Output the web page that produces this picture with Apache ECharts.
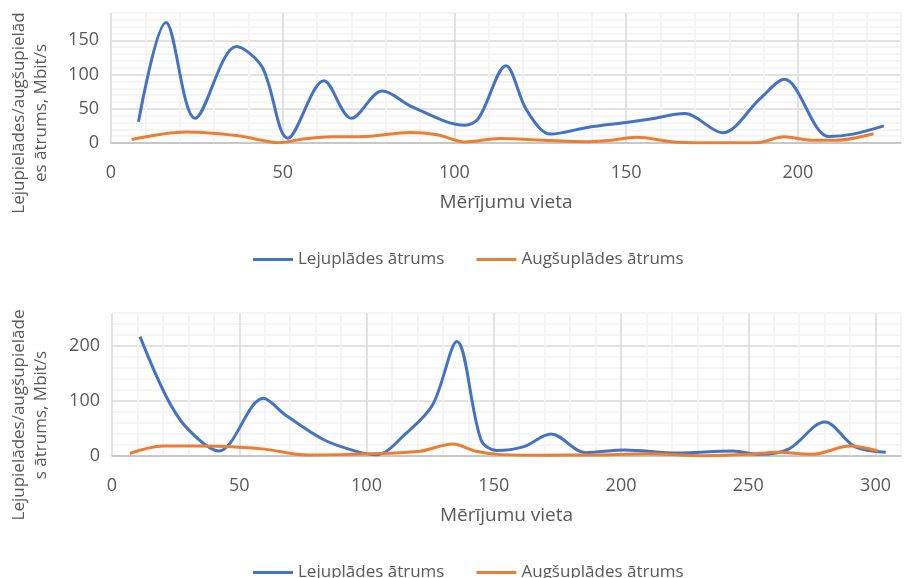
<!DOCTYPE html>
<html>
<head>
<meta charset="utf-8">
<script src="https://cdn.jsdelivr.net/npm/echarts@6/dist/echarts.min.js"></script>
<style>
  html, body { margin: 0; padding: 0; background: #ffffff; }
  #chart { width: 904px; height: 578px; }
</style>
</head>
<body>
<div id="chart"></div>
<script>
// Series names and axis titles
const seriesNames = ['Lejuplādes ātrums', 'Augšuplādes ātrums'];
const xAxisTitle = 'Mērījumu vieta';
const yAxisTitleTop = 'Lejupielādes/augšupielād\nes ātrums, Mbit/s';
const yAxisTitleBottom = 'Lejupielādes/augšupielāde\ns ātrums, Mbit/s';

// Tick labels shown on each axis
const topXTicks = [0, 50, 100, 150, 200];
const topYTicks = [0, 50, 100, 150];
const bottomXTicks = [0, 50, 100, 150, 200, 250, 300];
const bottomYTicks = [0, 100, 200];

// Upper chart: download speed (Mbit/s) per measurement location
const topDownX = [8, 16, 24.5, 36.5, 44, 51.5, 62, 70, 79, 88, 103, 107, 115, 121, 128, 139, 150, 157, 167, 178, 189, 196, 209, 216, 225];
const topDownY = [31, 176, 36, 141, 111, 7, 91, 36, 76, 52, 26, 36, 113, 48, 13, 23, 30, 35, 43, 15, 65, 93, 9.5, 13, 25];
// Upper chart: upload speed
const topUpX = [6, 22, 37, 49, 56, 64, 74, 87, 95, 103, 113, 126, 139, 145, 153, 163, 172, 188, 196, 204, 211, 222];
const topUpY = [5, 16, 10.5, 0.5, 6, 9, 9.5, 15.5, 12, 1.5, 6.5, 4, 2, 3.5, 8.5, 2, 0.5, 0.5, 9, 4, 4, 13.5];

// Lower chart: download speed
const bottomDownX = [11, 21, 29, 42, 59.5, 68, 83, 96, 104, 115.5, 126, 135.5, 145, 151, 161.5, 172.5, 186, 201.5, 222, 244, 254.5, 266, 280, 292, 304];
const bottomDownY = [217, 111, 53, 9, 105, 75, 30, 8.5, 2.5, 41, 93, 208, 29, 10, 16.5, 40, 6, 11, 5.5, 9, 3, 13, 62, 16.5, 7];
// Lower chart: upload speed
const bottomUpX = [7, 20, 34, 50, 60, 77, 90, 105, 121, 134, 143, 153, 170, 190, 210, 233, 250, 261, 275, 290, 301];
const bottomUpY = [4.5, 18, 18, 16, 12.5, 2, 2.5, 4.5, 8.5, 22, 8.5, 2.5, 1.5, 2, 4, 0.5, 3, 7, 3, 18, 9];

const FONT = '"Open Sans", "Noto Sans", sans-serif';
const TEXT = '#595959';
const BLUE = '#4472c4';
const ORANGE = '#ed7d31';
// every fifth grid line is a major one
const gridColors = ['#d9d9d9', '#f2f2f2', '#f2f2f2', '#f2f2f2', '#f2f2f2'];

function pairs(xs, ys) {
  return xs.map((x, i) => [x, ys[i]]);
}

function xAxis(gridIndex, max, ticks) {
  return {
    type: 'value', gridIndex, min: 0, max, interval: 10,
    name: xAxisTitle, nameLocation: 'middle', nameGap: 50,
    nameTextStyle: { fontFamily: FONT, fontSize: 19, color: TEXT },
    axisLine: { show: true, lineStyle: { color: '#bfbfbf', width: 1.5 } },
    axisTick: { show: false },
    axisLabel: {
      fontFamily: FONT, fontSize: 18, color: TEXT, margin: 21,
      formatter: v => (ticks.includes(v) ? String(v) : '')
    },
    splitLine: { show: true, lineStyle: { color: gridColors, width: 1.5 } }
  };
}

function yAxis(gridIndex, max, interval, ticks) {
  return {
    type: 'value', gridIndex, min: 0, max, interval,
    axisLine: { show: false },
    axisTick: { show: false },
    axisLabel: {
      fontFamily: FONT, fontSize: 18, color: TEXT, margin: 12,
      formatter: v => (ticks.includes(v) ? String(v) : '')
    },
    splitLine: { show: true, lineStyle: { color: gridColors, width: 1.5 } }
  };
}

function line(name, data, color, idx) {
  return {
    type: 'line', name, data, xAxisIndex: idx, yAxisIndex: idx,
    smooth: 0.33, showSymbol: false, symbol: 'none',
    lineStyle: { color, width: 3 }, itemStyle: { color },
    emphasis: { disabled: true }
  };
}

function legend(top) {
  return {
    left: 253, top, padding: 0, data: seriesNames, icon: 'rect',
    itemWidth: 40, itemHeight: 3, itemGap: 32,
    textStyle: { fontFamily: FONT, fontSize: 17, color: TEXT }
  };
}

const chart = echarts.init(document.getElementById('chart'), null, { renderer: 'canvas' });
chart.setOption({
  animation: false,
  backgroundColor: '#ffffff',
  grid: [
    { left: 111, right: -6, top: 13, bottom: 435 },
    { left: 112, right: -6, top: 313, bottom: 122 }
  ],
  xAxis: [xAxis(0, 230, topXTicks), xAxis(1, 310, bottomXTicks)],
  yAxis: [yAxis(0, 190, 10, topYTicks), yAxis(1, 260, 20, bottomYTicks)],
  legend: [legend(251), legend(564)],
  graphic: [
    {
      type: 'text', x: 30, y: 113, rotation: Math.PI / 2, silent: true,
      style: { text: yAxisTitleTop, fill: TEXT, fontFamily: FONT, fontSize: 17,
               align: 'center', verticalAlign: 'middle', lineHeight: 22 }
    },
    {
      type: 'text', x: 30, y: 415, rotation: Math.PI / 2, silent: true,
      style: { text: yAxisTitleBottom, fill: TEXT, fontFamily: FONT, fontSize: 17,
               align: 'center', verticalAlign: 'middle', lineHeight: 22 }
    }
  ],
  series: [
    line(seriesNames[0], pairs(topDownX, topDownY), BLUE, 0),
    line(seriesNames[1], pairs(topUpX, topUpY), ORANGE, 0),
    line(seriesNames[0], pairs(bottomDownX, bottomDownY), BLUE, 1),
    line(seriesNames[1], pairs(bottomUpX, bottomUpY), ORANGE, 1)
  ]
});
</script>
</body>
</html>
